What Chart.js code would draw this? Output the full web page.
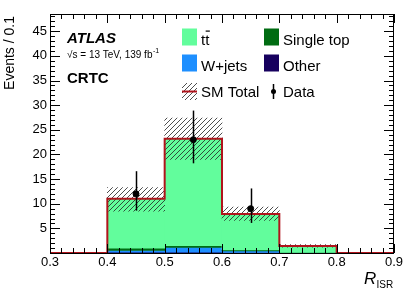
<!DOCTYPE html>
<html>
<head>
<meta charset="utf-8">
<script src="https://cdn.jsdelivr.net/npm/chart.js@4.4.1/dist/chart.umd.min.js"></script>
<style>
  body { margin: 0; background: #fff; }
  canvas { display: block; }
</style>
</head>
<body>
<canvas id="risr" width="415" height="298"></canvas>
<script>
// bins of R_ISR
var xEdges = [0.3, 0.4, 0.5, 0.6, 0.7, 0.8, 0.9];
var binCenters = [0.45, 0.55, 0.65, 0.75];

// stacked backgrounds, bottom to top
var other = [0.15, 0.15, 0.1, 0.02];
var wjets = [0.35, 1.0, 0.3, 0.03];
var singleTop = [0.5, 0.35, 0.2, 0.05];
var ttbar = [10.0, 21.7, 7.3, 1.3];

// SM total uncertainty band
var uncLow = [8.5, 19.0, 6.6, 1.2];
var uncHigh = [13.3, 27.4, 9.3, 1.7];

// data
var dataX = [0.45, 0.55, 0.65];
var dataY = [12, 23, 9];
var dataLow = [8.6, 18.2, 6.1];
var dataHigh = [16.6, 28.9, 13.1];

var xTickLabels = ['0.3', '0.4', '0.5', '0.6', '0.7', '0.8', '0.9'];
var yTickLabels = [5, 10, 15, 20, 25, 30, 35, 40, 45];

var FONT = '"Liberation Sans", Arial, Helvetica, sans-serif';

function hatchPattern() {
    var s = 5;
    var c = document.createElement('canvas');
    c.width = s; c.height = s;
    var g = c.getContext('2d');
    g.strokeStyle = '#222';
    g.lineWidth = 0.8;
    g.beginPath();
    g.moveTo(-1, 1); g.lineTo(1, -1);
    g.moveTo(0, s); g.lineTo(s, 0);
    g.moveTo(s - 1, s + 1); g.lineTo(s + 1, s - 1);
    g.stroke();
    return g.createPattern(c, 'repeat');
}
var hatch = hatchPattern();

// cumulative floating bars for the stack
var layers = [other, wjets, singleTop, ttbar];
var layerColors = ['#16005e', '#1e8fff', '#006c12', '#62fd9c'];
var stackSets = [];
var base = [0, 0, 0, 0];
for (var l = 0; l < layers.length; l++) {
    var pts = [];
    for (var i = 0; i < binCenters.length; i++) {
        pts.push({ x: binCenters[i], y: [base[i], base[i] + layers[l][i]] });
        base[i] += layers[l][i];
    }
    stackSets.push({
        type: 'bar', data: pts, backgroundColor: layerColors[l],
        borderWidth: 0, barPercentage: 1, categoryPercentage: 1, grouped: false,
        order: 20 - l
    });
}

// SM total outline, value at each left edge (empty bins at both ends)
var totalStep = [{ x: xEdges[0], y: 0 }];
for (var i = 0; i < binCenters.length; i++) totalStep.push({ x: xEdges[i + 1], y: base[i] });
totalStep.push({ x: xEdges[xEdges.length - 2], y: 0 });
totalStep.push({ x: xEdges[xEdges.length - 1], y: 0 });

var uncPts = [];
for (var i = 0; i < binCenters.length; i++) uncPts.push({ x: binCenters[i], y: [uncLow[i], uncHigh[i]] });

var dataPts = [];
for (var i = 0; i < dataX.length; i++) dataPts.push({ x: dataX[i], y: dataY[i] });

var datasets = stackSets.concat([
    { type: 'bar', data: uncPts, backgroundColor: hatch, borderWidth: 0,
      barPercentage: 1, categoryPercentage: 1, grouped: false, order: 5 },
    { type: 'line', data: totalStep, stepped: true, borderColor: '#b0141c', borderWidth: 2,
      pointRadius: 0, fill: false, clip: 3, order: 3 },
    { type: 'line', data: dataPts, showLine: false, pointRadius: 3,
      pointBackgroundColor: '#000', pointBorderColor: '#000', order: 1 }
]);

var errorBars = {
    id: 'errorBars',
    afterDatasetsDraw: function (chart) {
        var ctx = chart.ctx, xs = chart.scales.x, ys = chart.scales.y;
        ctx.save();
        ctx.strokeStyle = '#000';
        ctx.lineWidth = 1.5;
        for (var i = 0; i < dataX.length; i++) {
            var px = Math.round(xs.getPixelForValue(dataX[i])) + 0.5;
            ctx.beginPath();
            ctx.moveTo(px, ys.getPixelForValue(dataLow[i]));
            ctx.lineTo(px, ys.getPixelForValue(dataHigh[i]));
            ctx.stroke();
        }
        ctx.restore();
    }
};

var frame = {
    id: 'frame',
    afterDraw: function (chart) {
        var ctx = chart.ctx, a = chart.chartArea, xs = chart.scales.x, ys = chart.scales.y;
        ctx.save();
        ctx.strokeStyle = '#000';
        ctx.lineWidth = 1;
        ctx.strokeRect(a.left + 0.5, a.top + 0.5, a.right - a.left - 1, a.bottom - a.top);

        ctx.beginPath();
        // x ticks, inside, bottom and top
        for (var v = 0; v <= 30; v++) {
            var val = 0.3 + v * 0.02;
            var px = Math.round(xs.getPixelForValue(val)) + 0.5;
            var len = (v % 5 === 0) ? 9 : 5;
            ctx.moveTo(px, a.bottom); ctx.lineTo(px, a.bottom - len);
            ctx.moveTo(px, a.top); ctx.lineTo(px, a.top + len);
        }
        // y ticks, inside, left and right
        for (var v = 0; v <= 48; v++) {
            var py = Math.round(ys.getPixelForValue(v)) + 0.5;
            var len = (v % 5 === 0) ? 10 : 5;
            ctx.moveTo(a.left, py); ctx.lineTo(a.left + len, py);
            ctx.moveTo(a.right, py); ctx.lineTo(a.right - len, py);
        }
        ctx.stroke();

        ctx.fillStyle = '#000';
        ctx.font = '13px ' + FONT;
        ctx.textAlign = 'center';
        ctx.textBaseline = 'top';
        for (var i = 0; i < xTickLabels.length; i++) {
            ctx.fillText(xTickLabels[i], xs.getPixelForValue(xEdges[i]), a.bottom + 3);
        }
        ctx.textAlign = 'right';
        ctx.textBaseline = 'middle';
        for (var i = 0; i < yTickLabels.length; i++) {
            ctx.fillText(String(yTickLabels[i]), a.left - 3, ys.getPixelForValue(yTickLabels[i]));
        }

        // axis titles
        ctx.save();
        ctx.translate(10, a.top + 2);
        ctx.rotate(-Math.PI / 2);
        ctx.font = '14px ' + FONT;
        ctx.textAlign = 'right';
        ctx.textBaseline = 'middle';
        ctx.fillText('Events / 0.1', 0, 0);
        ctx.restore();

        ctx.textAlign = 'left';
        ctx.textBaseline = 'alphabetic';
        ctx.font = 'italic 17px ' + FONT;
        ctx.fillText('R', 364, 284);
        ctx.font = '10px ' + FONT;
        ctx.fillText('ISR', 376.5, 288);

        // ATLAS label
        ctx.font = 'italic bold 15px ' + FONT;
        ctx.fillText('ATLAS', 67, 43);
        ctx.font = '10px ' + FONT;
        ctx.fillText('\u221As = 13 TeV, 139 fb', 67, 58);
        var w = ctx.measureText('\u221As = 13 TeV, 139 fb').width;
        ctx.font = '7px ' + FONT;
        ctx.fillText('-1', 67 + w + 0.5, 53);
        ctx.font = 'bold 15px ' + FONT;
        ctx.fillText('CRTC', 67, 83);

        // legend
        var rows = [
            [{ c: layerColors[3], t: 'tt' }, { c: layerColors[2], t: 'Single top' }],
            [{ c: layerColors[1], t: 'W+jets' }, { c: layerColors[0], t: 'Other' }]
        ];
        var colX = [182, 264];
        var rowY = [28.5, 54.5];
        ctx.font = '15px ' + FONT;
        for (var r = 0; r < rows.length; r++) {
            for (var c = 0; c < 2; c++) {
                ctx.fillStyle = rows[r][c].c;
                ctx.fillRect(colX[c], rowY[r], 15, 17);
                ctx.fillStyle = '#000';
                ctx.fillText(rows[r][c].t, colX[c] + 19, rowY[r] + 16);
            }
        }
        // bar over the second t of ttbar
        var tw = ctx.measureText('t').width;
        ctx.fillRect(201 + tw + 0.5, rowY[0] + 2, tw, 1.2);

        ctx.fillStyle = hatch;
        ctx.fillRect(182, 83, 15, 17);
        ctx.strokeStyle = '#b0141c';
        ctx.lineWidth = 2;
        ctx.beginPath();
        ctx.moveTo(182, 91.5); ctx.lineTo(197, 91.5);
        ctx.stroke();
        ctx.fillStyle = '#000';
        ctx.fillText('SM Total', 201, 96.5);
        ctx.strokeStyle = '#000';
        ctx.lineWidth = 1.5;
        ctx.beginPath();
        ctx.moveTo(273.5, 84); ctx.lineTo(273.5, 99);
        ctx.stroke();
        ctx.beginPath();
        ctx.arc(273.5, 91.5, 2.5, 0, 2 * Math.PI);
        ctx.fill();
        ctx.fillText('Data', 283, 96.5);
        ctx.restore();
    }
};

var chart = new Chart(document.getElementById('risr'), {
    type: 'bar',
    data: { datasets: datasets },
    options: {
        responsive: false,
        animation: false,
        devicePixelRatio: 1,
        layout: { padding: { left: 50, right: 21, top: 14, bottom: 45 } },
        plugins: { legend: { display: false }, tooltip: { enabled: false } },
        scales: {
            x: { type: 'linear', min: 0.3, max: 0.9, offset: false, display: false },
            y: { min: 0, max: 48.5, display: false }
        }
    },
    plugins: [errorBars, frame]
});
</script>
</body>
</html>
